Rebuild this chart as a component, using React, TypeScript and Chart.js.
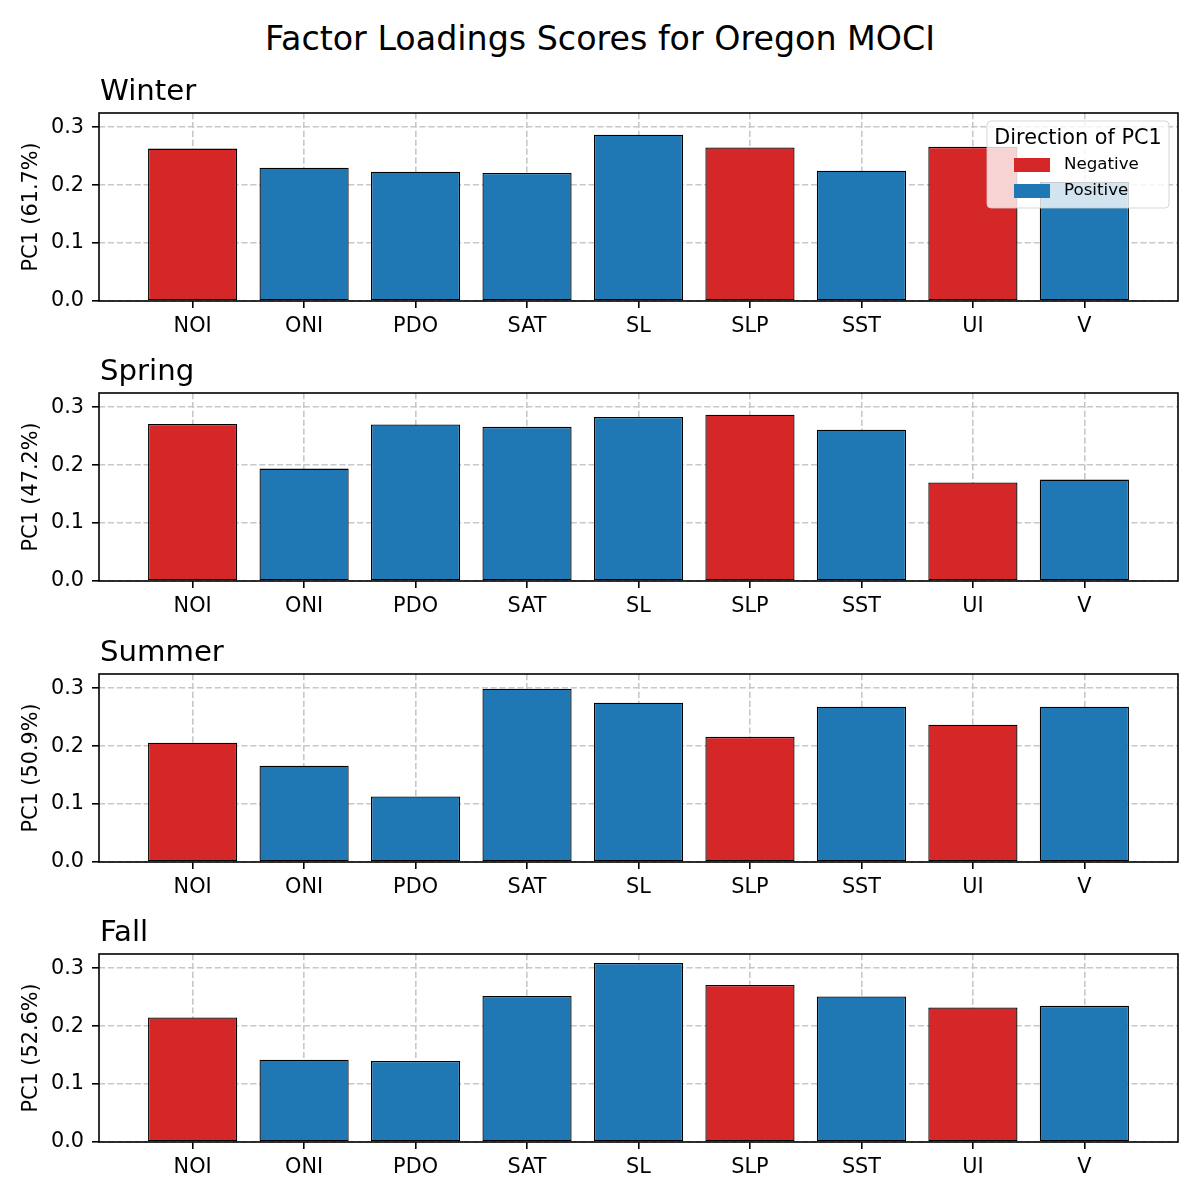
import { useEffect, useRef } from 'react'
import { Chart, registerables } from 'chart.js'

Chart.register(...registerables)

Chart.defaults.font.family = "'DejaVu Sans', sans-serif"
Chart.defaults.color = '#000'

const CATEGORIES = ['NOI', 'ONI', 'PDO', 'SAT', 'SL', 'SLP', 'SST', 'UI', 'V']
const DIRECTION = [
  'Negative',
  'Positive',
  'Positive',
  'Positive',
  'Positive',
  'Negative',
  'Positive',
  'Negative',
  'Positive',
]

const SEASONS = ['Winter', 'Spring', 'Summer', 'Fall']
const VARIANCE = ['61.7', '47.2', '50.9', '52.6']

const WINTER = [0.263, 0.23, 0.223, 0.221, 0.287, 0.265, 0.225, 0.266, 0.206]
const SPRING = [0.271, 0.194, 0.27, 0.266, 0.283, 0.287, 0.261, 0.17, 0.175]
const SUMMER = [0.206, 0.166, 0.113, 0.299, 0.275, 0.216, 0.268, 0.237, 0.268]
const FALL = [0.215, 0.142, 0.14, 0.252, 0.309, 0.271, 0.251, 0.232, 0.235]

const LOADINGS = [WINTER, SPRING, SUMMER, FALL]

const Y_TICKS = [0, 0.1, 0.2, 0.3]
const LEGEND_LABELS = ['Negative', 'Positive']

const COLORS: Record<string, string> = {
  Negative: '#d62728',
  Positive: '#1f77b4',
}

// layout (px), matched to the reference figure
const AX_TOP = [113, 393, 674, 954]
const PLOT_H = 188
const PAD_TOP = 48
const PAD_BOTTOM = 44
const CANVAS_H = PAD_TOP + PLOT_H + PAD_BOTTOM

const GRID = '#c8c8c8'
const DASH = [6.2, 2.7]

// shared y axis, matplotlib style 5% headroom
const Y_MAX = Math.max(...LOADINGS.flat()) * 1.05

function makeDecor(title: string, showLegend: boolean) {
  return {
    id: 'decor',
    afterDatasetsDraw(chart: Chart) {
      const { ctx, chartArea: a } = chart
      ctx.save()
      ctx.strokeStyle = '#000'
      ctx.lineWidth = 1.6
      ctx.strokeRect(a.left, a.top, a.right - a.left, a.bottom - a.top)
      ctx.restore()
    },
    afterDraw(chart: Chart) {
      const { ctx, chartArea: a } = chart
      ctx.save()
      ctx.fillStyle = '#000'
      ctx.font = "29.2px 'DejaVu Sans'"
      ctx.textAlign = 'left'
      ctx.textBaseline = 'alphabetic'
      ctx.fillText(title, a.left + 1, a.top - 13)

      if (showLegend) {
        const bw = 182
        const bh = 87
        const bx = a.right - 9 - bw
        const by = a.top + 8
        ctx.beginPath()
        ctx.roundRect(bx, by, bw, bh, 4)
        ctx.fillStyle = 'rgba(255,255,255,0.8)'
        ctx.fill()
        ctx.strokeStyle = 'rgba(204,204,204,0.8)'
        ctx.lineWidth = 1
        ctx.stroke()

        ctx.fillStyle = '#000'
        ctx.font = "20.8px 'DejaVu Sans'"
        ctx.textAlign = 'center'
        ctx.textBaseline = 'alphabetic'
        ctx.fillText('Direction of PC1', bx + bw / 2, by + 22.5)

        LEGEND_LABELS.forEach((lab, i) => {
          const cy = by + 44 + i * 26
          ctx.fillStyle = COLORS[lab]
          ctx.fillRect(bx + 27, cy - 7, 36, 14)
          ctx.fillStyle = '#000'
          ctx.font = "16.7px 'DejaVu Sans'"
          ctx.textAlign = 'left'
          ctx.textBaseline = 'middle'
          ctx.fillText(lab, bx + 77, cy)
        })
      }
      ctx.restore()
    },
  }
}

function Panel({ index }: { index: number }) {
  const ref = useRef<HTMLCanvasElement>(null)

  useEffect(() => {
    if (!ref.current) return

    const values = LOADINGS[index]

    const chart = new Chart(ref.current, {
      type: 'bar',
      data: {
        datasets: [
          {
            label: SEASONS[index],
            data: values.map((v, i) => ({ x: i, y: v })),
            backgroundColor: DIRECTION.map((d) => COLORS[d]),
            borderColor: '#000',
            borderWidth: 1.3,
            borderSkipped: false,
            barPercentage: 0.8,
            categoryPercentage: 1,
          },
        ],
      },
      options: {
        responsive: false,
        animation: false,
        layout: { padding: { top: PAD_TOP, right: 22, bottom: 0, left: 0 } },
        plugins: {
          legend: { display: false },
          tooltip: { enabled: false },
        },
        scales: {
          x: {
            type: 'linear',
            min: -0.84,
            max: 8.84,
            offset: false,
            afterBuildTicks: (axis: any) => {
              axis.ticks = CATEGORIES.map((_, i) => ({ value: i }))
            },
            afterFit: (axis: any) => {
              axis.height = PAD_BOTTOM
            },
            ticks: {
              callback: (v: any) => CATEGORIES[v],
              font: { size: 20.8 },
              padding: 6,
              maxRotation: 0,
              autoSkip: false,
            },
            grid: {
              offset: false,
              color: GRID,
              lineWidth: 1.6,
              tickColor: '#000',
              tickWidth: 1.6,
              tickLength: 7,
              tickBorderDash: [],
            },
            border: { display: false, dash: DASH },
          },
          y: {
            min: 0,
            max: Y_MAX,
            afterBuildTicks: (axis: any) => {
              axis.ticks = Y_TICKS.map((v) => ({ value: v }))
            },
            afterFit: (axis: any) => {
              axis.width = 99
            },
            ticks: {
              callback: (v: any) => Number(v).toFixed(1),
              font: { size: 20.8 },
              padding: 8,
            },
            grid: {
              color: GRID,
              lineWidth: 1.6,
              tickColor: '#000',
              tickWidth: 1.6,
              tickLength: 7,
              tickBorderDash: [],
            },
            border: { display: false, dash: DASH },
            title: {
              display: true,
              text: `PC1 (${VARIANCE[index]}%)`,
              font: { size: 20.8 },
              padding: { top: 19.5, bottom: 0 },
            },
          },
        },
      },
      plugins: [makeDecor(SEASONS[index], index === 0)],
    } as any)

    return () => chart.destroy()
  }, [index])

  return (
    <canvas
      ref={ref}
      width={1200}
      height={CANVAS_H}
      role="img"
      aria-label={`Factor loadings, ${SEASONS[index]}`}
      style={{
        position: 'absolute',
        left: 0,
        top: AX_TOP[index] - PAD_TOP,
        width: 1200,
        height: CANVAS_H,
      }}
    />
  )
}

export default function App() {
  return (
    <div
      style={{
        position: 'absolute',
        left: 0,
        top: 0,
        width: 1200,
        height: 1200,
        background: '#fff',
        fontFamily: "'DejaVu Sans', sans-serif",
      }}
    >
      <div
        style={{
          position: 'absolute',
          left: 0,
          top: 22,
          width: 1200,
          textAlign: 'center',
          fontSize: 33.3,
          lineHeight: '33px',
          color: '#000',
        }}
      >
        Factor Loadings Scores for Oregon MOCI
      </div>
      {SEASONS.map((_, i) => (
        <Panel key={i} index={i} />
      ))}
    </div>
  )
}
